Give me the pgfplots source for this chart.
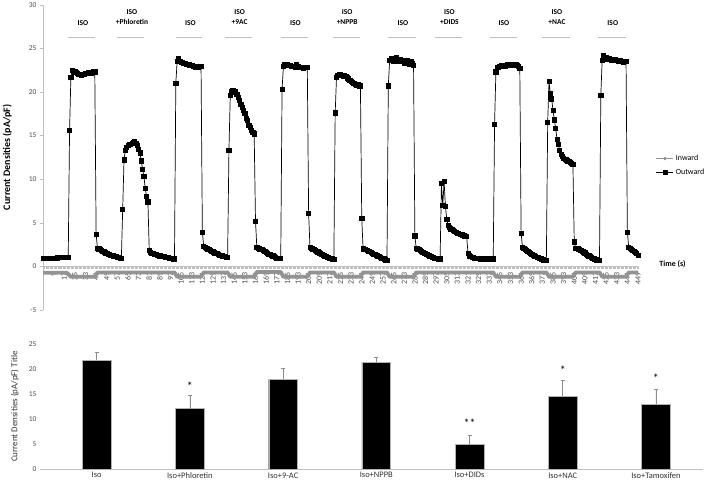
\documentclass[border=0pt]{standalone}
\usepackage{fontspec}
\setmainfont{Carlito}
\usepackage{pgfplots}
\pgfplotsset{compat=1.18}
\definecolor{txt}{HTML}{4D4D4D}
\definecolor{axgray}{HTML}{BFBFBF}
\definecolor{inw}{HTML}{939393}
\definecolor{errgray}{HTML}{8C8C8C}
\tikzset{lab/.style={font=\bfseries\fontsize{7.5}{9.5}\selectfont, align=center},
  tbar/.style={axgray, line width=1.2bp},
  star/.style={font=\fontsize{12}{13}\selectfont}}

\begin{document}
\begin{tikzpicture}
\useasboundingbox (0,0) rectangle (709bp,480bp);

% ---- time course ----
\begin{axis}[
  at={(43bp,170.1bp)}, anchor=south west,
  scale only axis, width=595bp, height=305.2bp,
  xmin=1, xmax=449, ymin=-5, ymax=30,
  axis x line*=middle, axis y line*=left,
  axis line style={axgray,-},
  xtick={1,9,...,449}, minor xtick={1,2,...,449},
  ytick={-5,0,...,30},
  tick align=outside, major tick length=3bp, minor tick length=2.5bp,
  tick style={axgray},
  /pgf/number format/assume math mode=true,
  yticklabel style={font=\fontsize{7.5}{8}\selectfont, text=txt},
  xticklabel style={font=\fontsize{8}{9}\selectfont, text=txt, rotate=90, anchor=east},
  clip=false,
  legend style={at={(1.025,0.473)}, anchor=west, draw=none, fill=none,
    font=\fontsize{8}{9}\selectfont, row sep=3bp},
  legend cell align=left,
]
% inward
\addplot[inw, line width=3.8bp, line join=round, forget plot] coordinates {
(1,-0.75)(19,-0.75)(22,-1.2)(40,-1.2)(42,-0.7)(100,-0.7)(102,-1.2)(120,-1.2)
(122,-0.7)(140,-0.7)(142,-1.2)(160,-1.2)(162,-0.65)(180,-0.65)(182,-1.2)(200,-1.2)
(202,-0.7)(220,-0.7)(222,-1.2)(240,-1.2)(242,-0.7)(260,-0.7)(262,-1.2)(280,-1.2)
(282,-0.7)(340,-0.7)(342,-1.2)(360,-1.2)(362,-0.7)(380,-0.7)(382,-1.2)(400,-1.2)
(402,-0.7)(420,-0.7)(422,-1.2)(440,-1.2)(442,-0.7)(449,-0.7)
};
\addlegendimage{inw, line width=0.8pt, mark=*, mark size=1.2pt}
\addlegendentry{Inward}
% outward
\addplot[black, line width=0.7bp, mark=square*, mark size=2.1bp] coordinates {
(1,0.95)(2,0.94)(3,0.93)(4,0.93)(5,0.92)(6,0.92)(7,0.92)(8,0.93)(9,0.93)(10,0.94)(11,0.95)(12,0.97)(13,1.00)(14,1.03)(15,1.05)(16,1.05)(17,1.04)(18,1.03)(19,1.03)(20,1.02)
(21,15.6)(22,21.7)(23,22.5)(24,22.4)(25,22.3)(26,22.2)(27,22.1)(28,22.0)(29,22.0)(30,21.9)(31,22.0)(32,22.0)(33,22.1)(34,22.1)(35,22.2)(36,22.2)(37,22.1)(38,22.2)(39,22.3)(40,22.3)
(41,3.7)(42,2.1)(43,2.0)(44,1.9)(45,1.8)(46,1.7)(47,1.65)(48,1.55)(49,1.5)(50,1.4)(51,1.35)(52,1.3)(53,1.25)(54,1.2)(55,1.15)(56,1.1)(57,1.05)(58,1.0)(59,0.95)(60,0.9)
(61,6.5)(62,12.2)(63,13.3)(64,13.6)(65,13.9)(66,14.0)(67,14.0)(68,14.1)(69,14.2)(70,14.3)(71,14.1)(72,13.9)(73,13.4)(74,13.0)(75,12.1)(76,11.1)(77,10.3)(78,8.9)(79,8.0)(80,7.4)
(81,1.8)(82,1.6)(83,1.5)(84,1.45)(85,1.4)(86,1.35)(87,1.3)(88,1.25)(89,1.2)(90,1.15)(91,1.1)(92,1.1)(93,1.05)(94,1.0)(95,1.0)(96,0.95)(97,0.9)(98,0.9)(99,0.85)(100,0.85)
(101,21.0)(102,23.5)(103,23.8)(104,23.5)(105,23.4)(106,23.4)(107,23.3)(108,23.3)(109,23.2)(110,23.2)(111,23.1)(112,23.0)(113,23.0)(114,22.9)(115,22.9)(116,22.8)(117,22.8)(118,22.8)(119,22.9)(120,22.9)
(121,3.9)(122,2.3)(123,2.2)(124,2.1)(125,2.0)(126,1.9)(127,1.8)(128,1.7)(129,1.65)(130,1.55)(131,1.5)(132,1.45)(133,1.4)(134,1.3)(135,1.25)(136,1.2)(137,1.15)(138,1.1)(139,1.05)(140,1.05)
(141,13.3)(142,19.6)(143,20.1)(144,20.2)(145,20.1)(146,20.0)(147,19.7)(148,19.4)(149,19.0)(150,18.6)(151,18.2)(152,17.9)(153,17.5)(154,17.0)(155,16.7)(156,16.2)(157,15.9)(158,15.6)(159,15.4)(160,15.2)
(161,5.2)(162,2.2)(163,2.1)(164,2.0)(165,1.95)(166,1.9)(167,1.8)(168,1.7)(169,1.6)(170,1.5)(171,1.4)(172,1.35)(173,1.25)(174,1.2)(175,1.1)(176,1.0)(177,0.95)(178,0.9)(179,0.9)(180,0.9)
(181,20.3)(182,22.9)(183,23.2)(184,23.1)(185,23.1)(186,23.0)(187,23.0)(188,22.9)(189,22.9)(190,22.9)(191,22.8)(192,23.1)(193,22.9)(194,22.8)(195,22.8)(196,22.8)(197,22.7)(198,22.8)(199,22.8)(200,22.8)
(201,6.1)(202,2.2)(203,2.1)(204,2.0)(205,1.9)(206,1.8)(207,1.75)(208,1.65)(209,1.55)(210,1.5)(211,1.4)(212,1.3)(213,1.2)(214,1.15)(215,1.05)(216,1.0)(217,0.95)(218,0.9)(219,0.85)(220,0.8)
(221,17.6)(222,21.7)(223,21.9)(224,22.0)(225,22.0)(226,21.9)(227,21.8)(228,21.9)(229,21.8)(230,21.6)(231,21.5)(232,21.3)(233,21.2)(234,21.1)(235,21.0)(236,20.9)(237,20.8)(238,20.8)(239,20.7)(240,20.7)
(241,5.5)(242,2.0)(243,1.95)(244,1.9)(245,1.85)(246,1.75)(247,1.7)(248,1.6)(249,1.5)(250,1.4)(251,1.35)(252,1.25)(253,1.2)(254,1.1)(255,1.05)(256,0.95)(257,0.9)(258,0.85)(259,0.75)(260,0.7)
(261,20.7)(262,23.6)(263,23.8)(264,23.7)(265,23.5)(266,23.8)(267,24.0)(268,23.7)(269,23.5)(270,23.7)(271,23.6)(272,23.5)(273,23.3)(274,23.4)(275,23.6)(276,23.3)(277,23.2)(278,23.5)(279,23.3)(280,23.0)
(281,3.5)(282,2.1)(283,2.0)(284,1.9)(285,1.8)(286,1.7)(287,1.6)(288,1.5)(289,1.45)(290,1.35)(291,1.3)(292,1.2)(293,1.15)(294,1.05)(295,1.0)(296,0.95)(297,0.9)(298,0.9)(299,0.85)(300,0.85)
(301,9.5)(302,7.0)(303,9.7)(304,6.9)(305,5.4)(306,4.7)(307,4.5)(308,4.3)(309,4.2)(310,4.1)(311,4.0)(312,3.9)(313,3.8)(314,3.75)(315,3.7)(316,3.65)(317,3.6)(318,3.5)(319,3.45)(320,3.4)
(321,1.5)(322,1.2)(323,1.1)(324,1.05)(325,1.0)(326,0.95)(327,0.9)(328,0.9)(329,0.9)(330,0.85)(331,0.85)(332,0.85)(333,0.85)(334,0.85)(335,0.85)(336,0.85)(337,0.85)(338,0.85)(339,0.85)(340,0.85)
(341,16.3)(342,22.3)(343,22.8)(344,22.8)(345,22.9)(346,23.0)(347,22.9)(348,23.0)(349,22.9)(350,23.0)(351,23.1)(352,23.0)(353,23.1)(354,23.0)(355,23.1)(356,23.0)(357,23.1)(358,23.0)(359,22.9)(360,22.7)
(361,3.8)(362,2.2)(363,2.05)(364,1.9)(365,1.8)(366,1.7)(367,1.6)(368,1.5)(369,1.4)(370,1.3)(371,1.2)(372,1.1)(373,1.05)(374,1.0)(375,0.9)(376,0.85)(377,0.8)(378,0.75)(379,0.7)(380,0.7)
(381,16.5)(382,21.2)(383,19.8)(384,19.2)(385,17.9)(386,16.8)(387,15.8)(388,14.6)(389,14.0)(390,13.3)(391,12.8)(392,12.6)(393,12.4)(394,12.3)(395,12.2)(396,12.1)(397,12.0)(398,11.9)(399,11.8)(400,11.7)
(401,2.8)(402,2.1)(403,2.05)(404,2.0)(405,1.95)(406,1.85)(407,1.75)(408,1.65)(409,1.55)(410,1.4)(411,1.3)(412,1.2)(413,1.1)(414,1.0)(415,0.9)(416,0.85)(417,0.8)(418,0.75)(419,0.7)(420,0.7)
(421,19.6)(422,23.6)(423,24.2)(424,24.0)(425,23.9)(426,23.8)(427,23.8)(428,23.7)(429,23.6)(430,23.6)(431,23.7)(432,23.7)(433,23.6)(434,23.5)(435,23.6)(436,23.6)(437,23.5)(438,23.4)(439,23.5)(440,23.5)
(441,3.9)(442,2.2)(443,2.05)(444,1.95)(445,1.85)(446,1.7)(447,1.6)(448,1.45)(449,1.25)
};
\addlegendentry{Outward}

% treatment bars and labels
\draw[tbar] (axis cs:20,26.2) -- (axis cs:40,26.2);
\draw[tbar] (axis cs:56.5,26.2) -- (axis cs:77,26.2);
\draw[tbar] (axis cs:101,26.2) -- (axis cs:121,26.2);
\draw[tbar] (axis cs:138,26.2) -- (axis cs:158.5,26.2);
\draw[tbar] (axis cs:180,26.2) -- (axis cs:200.6,26.2);
\draw[tbar] (axis cs:219,26.2) -- (axis cs:239.6,26.2);
\draw[tbar] (axis cs:261,26.2) -- (axis cs:281.7,26.2);
\draw[tbar] (axis cs:296,26.2) -- (axis cs:316.5,26.2);
\draw[tbar] (axis cs:337.4,26.2) -- (axis cs:358.2,26.2);
\draw[tbar] (axis cs:377,26.2) -- (axis cs:397.6,26.2);
\draw[tbar] (axis cs:419,26.2) -- (axis cs:439.7,26.2);
\node[lab] at (axis cs:31,27.9) {ISO};
\node[lab] at (axis cs:68,28.6) {ISO\\+Phloretin};
\node[lab] at (axis cs:112,27.9) {ISO};
\node[lab] at (axis cs:149,28.6) {ISO\\+9AC};
\node[lab] at (axis cs:191,27.9) {ISO};
\node[lab] at (axis cs:230,28.6) {ISO\\+NPPB};
\node[lab] at (axis cs:272,27.9) {ISO};
\node[lab] at (axis cs:307,28.6) {ISO\\+DIDS};
\node[lab] at (axis cs:348,27.9) {ISO};
\node[lab] at (axis cs:388,28.6) {ISO\\+NAC};
\node[lab] at (axis cs:430,27.9) {ISO};
\node[font=\bfseries\fontsize{8}{9}\selectfont, anchor=west] at (axis description cs:1.03,0.151) {Time (s)};
\node[font=\bfseries\fontsize{10}{12}\selectfont, rotate=90] at (axis description cs:-0.06,0.5) {Current Densities (pA/pF)};
\end{axis}

% ---- summary bars ----
\begin{axis}[
  at={(40bp,11bp)}, anchor=south west,
  scale only axis, width=663bp, height=124.7bp,
  xmin=-0.608, xmax=6.505, ymin=0, ymax=25,
  axis x line*=bottom, axis y line*=left,
  x axis line style={axgray,-}, y axis line style={draw=none},
  xtick={0,...,6},
  xticklabels={Iso,Iso+Phloretin,Iso+9-AC,Iso+NPPB,Iso+DIDs,Iso+NAC,Iso+Tamoxifen},
  ytick={0,5,...,25},
  major tick length=0pt,
  /pgf/number format/assume math mode=true,
  yticklabel style={font=\fontsize{7.5}{8}\selectfont, text=txt},
  xticklabel style={font=\fontsize{8.5}{10}\selectfont, text=black!80},
  clip=false,
]
\addplot[ybar, bar width=28.7bp, fill=black, draw=gray!60, line width=0.4bp,
  error bars/.cd, y dir=plus, y explicit,
  error bar style={errgray, line width=0.6bp},
  error mark options={rotate=90, mark size=2bp, errgray, line width=0.6bp}]
  table[x=x, y=y, y error=e] {
x y e
0 21.8 1.6
1 12.1 2.6
2 18.0 2.2
3 21.4 1.0
4 4.9 1.9
5 14.6 3.1
6 13.0 3.0
};
\node[star] at (axis cs:1,16.6) {*};
\node[star] at (axis cs:4,9.1) {**};
\node[star] at (axis cs:5,19.8) {*};
\node[star] at (axis cs:6,18.2) {*};
\node[font=\fontsize{9}{11}\selectfont, text=black!80, rotate=90] at (axis description cs:-0.038,0.5) {Current Densities (pA/pF) Title};
\end{axis}
\end{tikzpicture}
\end{document}
